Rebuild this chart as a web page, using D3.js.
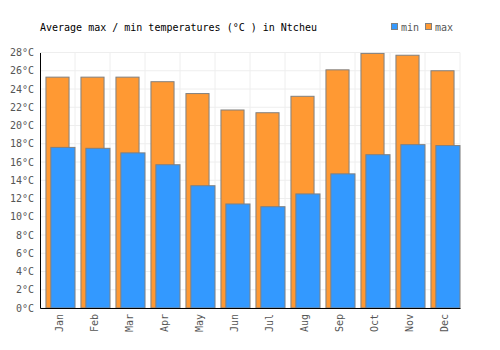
<!DOCTYPE html>
<html>
<head>
<meta charset="utf-8">
<script src="https://cdn.jsdelivr.net/npm/d3@7"></script>
<style>
  html, body { margin: 0; padding: 0; background: #fff; }
  svg { display: block; font-family: "DejaVu Sans Mono", monospace; }
</style>
</head>
<body>
<div id="chart"></div>
<script>
// ----- Data -----
const months   = ["Jan", "Feb", "Mar", "Apr", "May", "Jun", "Jul", "Aug", "Sep", "Oct", "Nov", "Dec"];
const maxTemps = [25.3, 25.3, 25.3, 24.8, 23.5, 21.7, 21.4, 23.2, 26.1, 27.9, 27.7, 26.0];
const minTemps = [17.6, 17.5, 17.0, 15.7, 13.4, 11.4, 11.1, 12.5, 14.7, 16.8, 17.9, 17.8];
const yTicks   = [0, 2, 4, 6, 8, 10, 12, 14, 16, 18, 20, 22, 24, 26, 28];

const width  = 500;
const height = 350;
const margin = { top: 52.5, right: 40, bottom: 42, left: 40 };

const svg = d3.select("#chart")
  .append("svg")
  .attr("width", width)
  .attr("height", height);

const x = d3.scaleBand()
  .domain(months)
  .range([margin.left, width - margin.right])
  .padding(0);

const y = d3.scaleLinear()
  .domain([0, 28])
  .range([height - margin.bottom, margin.top]);

const bw = x.bandwidth();

// grid
svg.append("g")
  .selectAll("line.h")
  .data(yTicks)
  .enter()
  .append("line")
  .attr("x1", margin.left)
  .attr("x2", width - margin.right)
  .attr("y1", d => y(d))
  .attr("y2", d => y(d))
  .attr("stroke", "#eeeeee")
  .attr("stroke-width", 1);

svg.append("g")
  .selectAll("line.v")
  .data(months)
  .enter()
  .append("line")
  .attr("x1", d => x(d) + bw)
  .attr("x2", d => x(d) + bw)
  .attr("y1", y(28))
  .attr("y2", y(0))
  .attr("stroke", "#eeeeee")
  .attr("stroke-width", 1);

// max bars (behind)
svg.append("g")
  .selectAll("rect")
  .data(months)
  .enter()
  .append("rect")
  .attr("x", d => x(d) + bw * 0.17)
  .attr("width", bw * 0.66)
  .attr("y", (d, i) => y(maxTemps[i]))
  .attr("height", (d, i) => y(0) - y(maxTemps[i]))
  .attr("fill", "#ff9933")
  .attr("stroke", "#808080")
  .attr("stroke-width", 1);

// min bars (front)
svg.append("g")
  .selectAll("rect")
  .data(months)
  .enter()
  .append("rect")
  .attr("x", d => x(d) + bw * 0.31)
  .attr("width", bw * 0.69)
  .attr("y", (d, i) => y(minTemps[i]))
  .attr("height", (d, i) => y(0) - y(minTemps[i]))
  .attr("fill", "#3399ff")
  .attr("stroke", "#808080")
  .attr("stroke-width", 1);

// axes
const yAxis = svg.append("g")
  .attr("transform", `translate(${margin.left},0)`)
  .call(d3.axisLeft(y).tickValues(yTicks).tickSize(0).tickPadding(6).tickFormat(d => d + "°C"));
yAxis.select(".domain").attr("stroke", "#000");
yAxis.selectAll("text")
  .attr("fill", "#555")
  .style("font-size", "10px")
  .style("font-family", "DejaVu Sans Mono, monospace");

const xAxis = svg.append("g")
  .attr("transform", `translate(0,${y(0)})`)
  .call(d3.axisBottom(x).tickSize(0).tickPadding(0));
xAxis.select(".domain").attr("stroke", "#000");
xAxis.selectAll("text")
  .attr("fill", "#555")
  .style("font-size", "10px")
  .style("font-family", "DejaVu Sans Mono, monospace")
  .attr("text-anchor", "end")
  .attr("dy", null)
  .attr("y", 0)
  .attr("transform", "translate(5,6) rotate(-90)");

// title
svg.append("text")
  .attr("x", 40)
  .attr("y", 31)
  .attr("fill", "#000")
  .attr("font-size", 10)
  .text("Average max / min temperatures (°C ) in Ntcheu");

// legend
const legendItems = [
  { label: "min", color: "#3399ff", x: 391.5 },
  { label: "max", color: "#ff9933", x: 425.5 }
];
const legend = svg.append("g");
legend.selectAll("rect")
  .data(legendItems)
  .enter()
  .append("rect")
  .attr("x", d => d.x)
  .attr("y", 23.5)
  .attr("width", 6)
  .attr("height", 6)
  .attr("fill", d => d.color)
  .attr("stroke", "#808080")
  .attr("stroke-width", 1);
legend.selectAll("text")
  .data(legendItems)
  .enter()
  .append("text")
  .attr("x", d => d.x + 9.5)
  .attr("y", 31)
  .attr("fill", "#555")
  .attr("font-size", 10)
  .text(d => d.label);
</script>
</body>
</html>
